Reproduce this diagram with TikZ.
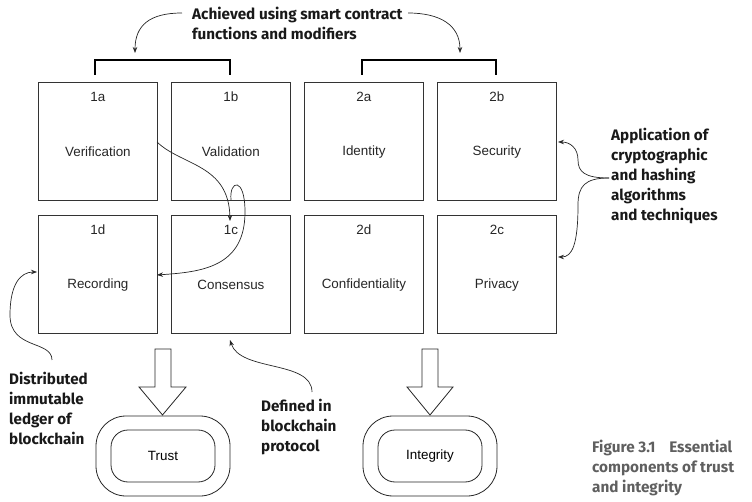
\documentclass[tikz,border=0pt]{standalone}
\usepackage{fontspec}
\setmainfont{Liberation Sans}
\newfontfamily\annfont{Fira Sans}
\usetikzlibrary{arrows.meta}
\definecolor{capgray}{HTML}{5f5f5f}
\begin{document}
\begin{tikzpicture}[x=1pt,y=-1pt,
  box/.style={draw=black!80, line width=0.8pt, minimum width=119pt, minimum height=118pt, inner sep=0pt, anchor=north west},
  lbl/.style={font=\fontsize{13.4}{15}\selectfont, text=black!85, inner sep=0pt},
  ann/.style={font=\annfont\bfseries\fontsize{15.2}{20}\selectfont, align=left, inner sep=0pt, anchor=west, text=black!90},
  arr/.style={draw=black!85, line width=0.7pt, -{Stealth[length=6pt,width=4.5pt]}},
  brk/.style={draw=black, line width=1.6pt},
  bigarrow/.style={draw=black!85, line width=0.8pt, fill=white},
  outer/.style={draw=black!85, line width=0.8pt, rounded corners=30pt, minimum width=134pt, minimum height=80pt, inner sep=0pt},
  inner/.style={draw=black!85, line width=0.8pt, rounded corners=17pt, minimum width=104pt, minimum height=52pt, inner sep=0pt, font=\fontsize{13.4}{15}\selectfont}
]
\useasboundingbox (0,0) rectangle (752,502);

% boxes
\node[box] (b1a) at (38,82) {};
\node[box] (b1b) at (171,82) {};
\node[box] (b2a) at (304,82) {};
\node[box] (b2b) at (437,82) {};
\node[box] (b1d) at (38,215) {};
\node[box] (b1c) at (171,215) {};
\node[box] (b2d) at (304,215) {};
\node[box] (b2c) at (437,215) {};

% labels
\foreach \b/\n/\t in {b1a/1a/Verification, b1b/1b/Validation, b2a/2a/Identity, b2b/2b/Security,
                      b1d/1d/Recording, b1c/1c/Consensus, b2d/2d/Confidentiality, b2c/2c/Privacy}{
  \node[lbl] (\b n) at ([yshift=-15pt]\b.north) {\n};
  \node[lbl] (\b t) at ([yshift=-70pt]\b.north) {\t};
}

% brackets
\draw[brk] (95,75) -- (95,60) -- (230,60) -- (230,75);
\draw[brk] (362,75) -- (362,60) -- (496,60) -- (496,75);

% top annotation
\node[ann] (top) at (192,23.5) {\fontsize{15.3}{19}\selectfont Achieved using smart contract\\ functions and modifiers};
\coordinate (tl) at (182,13);
\coordinate (tr) at (408,13);
\coordinate (bl) at (135,53);
\coordinate (br) at (460,53);
\draw[arr] (tl) .. controls (150,13) and (135,25) .. (bl);
\draw[arr] (tr) .. controls (440,13) and (460,25) .. (br);

% flow curves
\coordinate (c1s) at (157,142);
\coordinate (c1e) at (230,221);
\draw[arr] (c1s) .. controls (182,166) and (229,164) .. (c1e);
\coordinate (c2s) at (231,200);
\coordinate (c2e) at (157,275);
\draw[arr] (c2s) .. controls (229,180) and (245,176) .. (245,212) .. controls (245,268) and (200,272) .. (c2e);

% right annotation
\node[ann] (crypto) at (611,176) {Application of\\ cryptographic\\ and hashing\\ algorithms\\ and techniques};
\coordinate (brc) at (609,178);
\coordinate (sec) at (558,142);
\coordinate (pri) at (558,257);
\draw[arr] (brc) .. controls (585,178) and (578,172) .. (578,160) .. controls (578,148) and (570,142) .. (sec);
\draw[arr] (brc) .. controls (585,178) and (578,186) .. (578,205) .. controls (578,245) and (572,257) .. (pri);

% left annotation
\node[ann] (dist) at (9,408) {Distributed\\ immutable\\ ledger of\\ blockchain};
\coordinate (ds) at (52,360);
\coordinate (de) at (37,272);
\draw[arr] (ds) .. controls (52,340) and (10,350) .. (10,315) .. controls (10,285) and (20,272) .. (de);

% defined annotation
\node[ann] (def) at (261,427) {Defined in\\ blockchain\\ protocol};
\coordinate (fs) at (312,392);
\coordinate (fe) at (230,340);
\draw[arr] (fs) .. controls (312,360) and (240,372) .. (fe);

% big hollow arrows
\draw[bigarrow] (155,349) -- (171,349) -- (171,387) -- (186,387) -- (162.5,415) -- (139,387) -- (155,387) -- cycle;
\draw[bigarrow] (422,349) -- (438,349) -- (438,387) -- (453,387) -- (430,415) -- (407,387) -- (422,387) -- cycle;

% outcome boxes
\node[outer] (trusto) at (163,456) {};
\node[inner] (trust) at (163,456) {Trust};
\node[outer] (integro) at (430,456) {};
\node[inner] (integ) at (430,456) {Integrity};

% caption
\node[font=\annfont\bfseries\fontsize{15.3}{20}\selectfont, text=capgray, align=left, inner sep=0pt, anchor=west] (cap) at (592,468) {Figure 3.1\hspace{0.9em}Essential\\ components of trust\\ and integrity};
\end{tikzpicture}
\end{document}
